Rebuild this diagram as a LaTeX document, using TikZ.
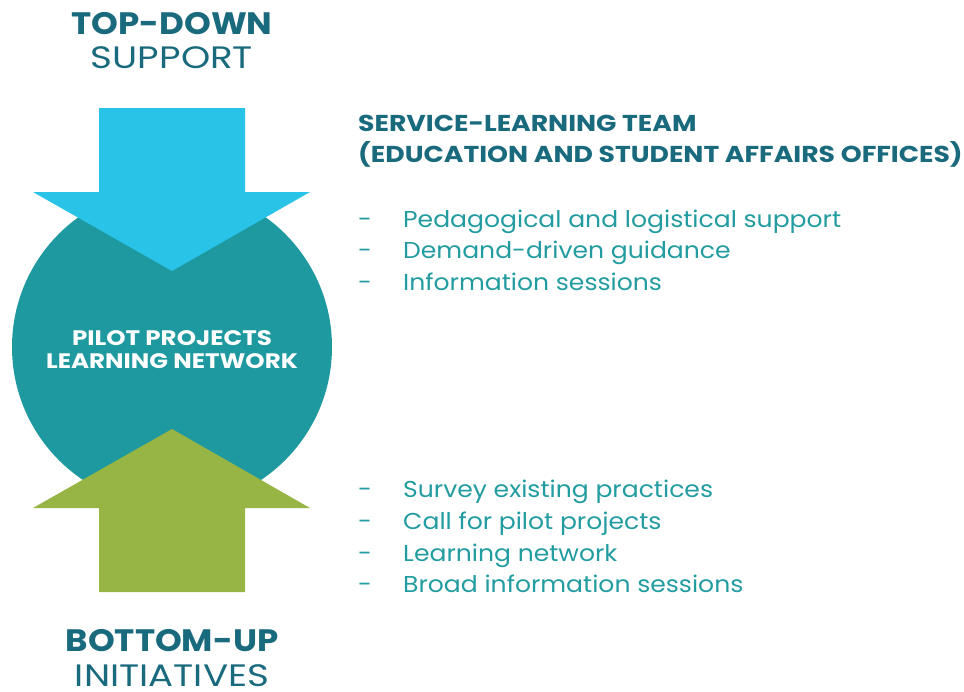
\documentclass[tikz,border=0pt]{standalone}
\usepackage{fontspec}
\setmainfont{Poppins}
\newfontfamily\titlefont[FakeStretch=1.1]{Poppins}
\newfontfamily\titlelightfont[FakeStretch=1.2]{Poppins}
\newfontfamily\headfont[FakeStretch=1.16]{Poppins}
\newfontfamily\itemfont[FakeStretch=1.09]{Poppins}
\newfontfamily\netfont[FakeStretch=1.17]{Poppins}
\definecolor{titleblue}{HTML}{1A6A7E}
\definecolor{netteal}{HTML}{1E999F}
\definecolor{itemteal}{HTML}{229CA0}
\definecolor{skyblue}{HTML}{29C3E8}
\definecolor{leafgreen}{HTML}{96B545}
\tikzset{
  titlebold/.style={anchor=base,text=titleblue,font=\titlefont\fontsize{31}{31}\selectfont\bfseries,inner sep=0pt,text depth=0pt},
  titlelight/.style={anchor=base,text=titleblue,font=\titlelightfont\fontsize{31}{31}\selectfont,inner sep=0pt,text depth=0pt},
  headline/.style={anchor=base west,text=titleblue,font=\headfont\fontsize{23}{23}\selectfont\bfseries,inner sep=0pt},
  itemline/.style={anchor=base west,text=itemteal,font=\itemfont\fontsize{23}{23}\selectfont,inner sep=0pt},
  nettext/.style={anchor=base,text=white,font=\netfont\fontsize{21}{21}\selectfont\bfseries,inner sep=0pt}
}
\begin{document}
\begin{tikzpicture}[x=1pt,y=-1pt]
      \useasboundingbox(0,0)rectangle(964,691);
      \node[circle,fill=netteal,minimum size=320pt,inner sep=0pt](net)at(172,347){};
      \fill[skyblue](99,108)--(245,108)--(245,192)--(310,192)--(172,271)--(33,192)--(99,192)--cycle;
      \fill[leafgreen](172,429)--(310,508)--(245,508)--(245,592)--(99,592)--(99,508)--(33,508)--cycle;
      \node[nettext](net1)at(172,345){PILOT PROJECTS};
      \node[nettext](net2)at(172,368){LEARNING NETWORK};
      \node[titlebold](top1)at(172,34){TOP-DOWN};
      \node[titlelight](top2)at(172,68){SUPPORT};
      \node[titlebold](bot1)at(172,651){BOTTOM-UP};
      \node[titlelight](bot2)at(172,686){INITIATIVES};
      \node[headline](team1)at(358,131){SERVICE-LEARNING TEAM};
      \node[headline](team2)at(358,162){(EDUCATION AND STUDENT AFFAIRS OFFICES)};
           \foreach \n/\y/\t in{%
             1/227/Pedagogical and logistical support, 2/258/Demand-driven guidance,
             3/290/Information sessions,
             4/497/Survey existing practices, 5/529/Call for pilot projects,
             6/561/Learning network, 7/592/Broad information sessions}{%
             \node[itemline](dash\n)at(358,\y){-};
             \node[itemline](item\n)at(403,\y){\t};
           }
    \end{tikzpicture}
\end{document}
